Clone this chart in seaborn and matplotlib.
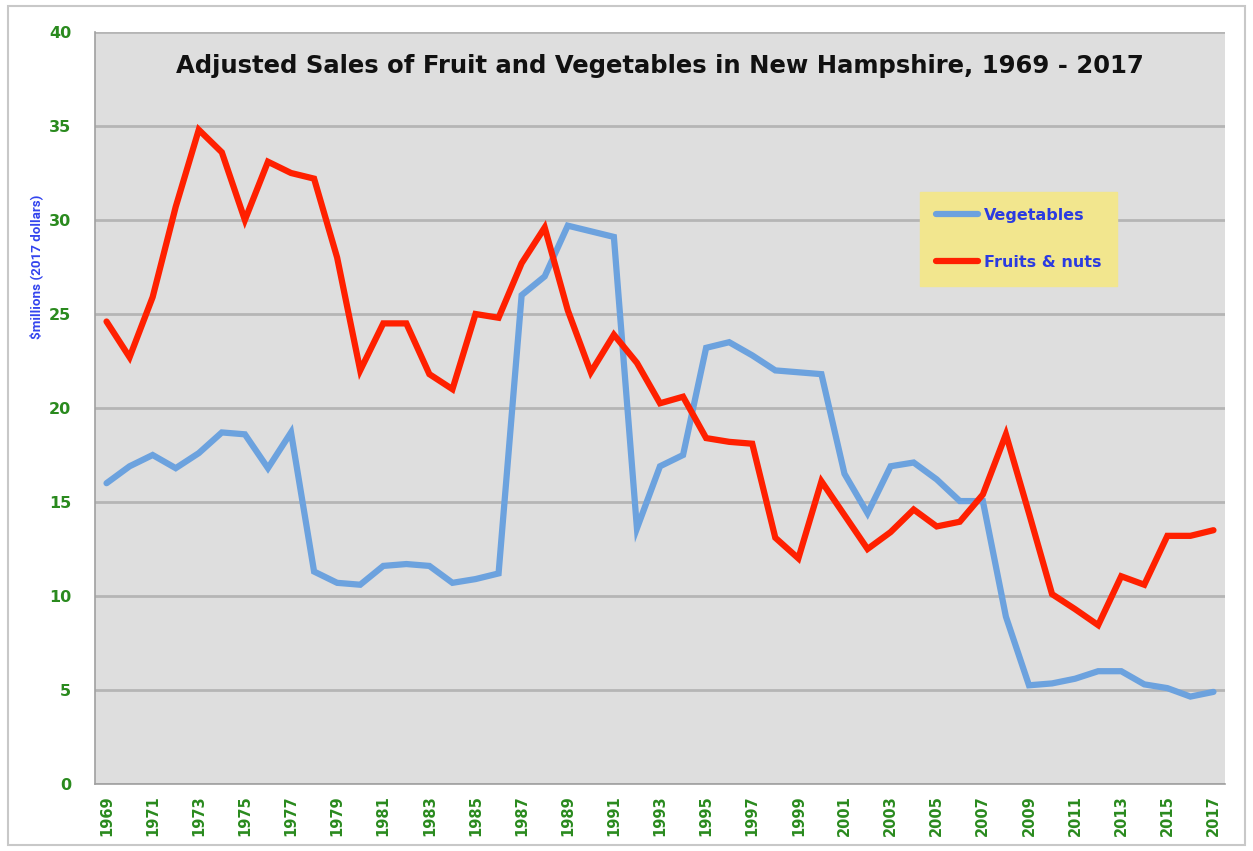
import matplotlib
matplotlib.use("Agg")
import matplotlib.pyplot as plt
import matplotlib.patches as mpatches
from matplotlib.lines import Line2D
from matplotlib import font_manager
import seaborn as sns
import pandas as pd
import numpy as np

years = list(range(1969, 2018))
vegetables = [16.0, 16.9, 17.5, 16.8, 17.6, 18.7, 18.6, 16.8, 18.7, 11.3,
              10.7, 10.6, 11.6, 11.7, 11.6, 10.7, 10.9, 11.2, 26.0, 27.0,
              29.7, 29.4, 29.1, 13.6, 16.9, 17.5, 23.2, 23.5, 22.8, 22.0,
              21.9, 21.8, 16.5, 14.4, 16.9, 17.1, 16.2, 15.05, 15.05, 8.9,
              5.25, 5.35, 5.6, 6.0, 6.0, 5.3, 5.1, 4.65, 4.9]
fruits = [24.6, 22.7, 25.9, 30.7, 34.8, 33.6, 30.0, 33.1, 32.5, 32.2,
          28.0, 22.0, 24.5, 24.5, 21.8, 21.0, 25.0, 24.8, 27.7, 29.6,
          25.2, 21.9, 23.9, 22.4, 20.25, 20.6, 18.4, 18.2, 18.1, 13.1,
          12.0, 16.1, 14.3, 12.5, 13.4, 14.6, 13.7, 13.95, 15.4, 18.6,
          14.4, 10.1, 9.3, 8.45, 11.05, 10.6, 13.2, 13.2, 13.5]
series_names = ["Vegetables", "Fruits & nuts"]
title = "Adjusted Sales of Fruit and Vegetables in New Hampshire, 1969 - 2017"
ylabel = "$millions (2017 dollars)"

df = pd.DataFrame({
    "year": years * 2,
    "value": vegetables + fruits,
    "series": [series_names[0]] * len(years) + [series_names[1]] * len(years),
})

sns.set_style("white")
available = {f.name for f in font_manager.fontManager.ttflist}
narrow = "Liberation Sans Narrow" if "Liberation Sans Narrow" in available else "Roboto"
plt.rcParams['font.family'] = ['DejaVu Sans']

fig = plt.figure(figsize=(12.53, 8.51), dpi=100)
ax = fig.add_axes([95/1253, 1-784/851, (1225-95)/1253, (784-32)/851])

palette = {series_names[0]: "#6CA2DE", series_names[1]: "#FF2000"}
sns.lineplot(data=df, x="year", y="value", hue="series", palette=palette,
             linewidth=4.5, ax=ax, legend=False, solid_joinstyle="miter")

ax.set_facecolor("#DEDEDE")
ax.set_xlim(1968.5, 2017.5)
ax.set_ylim(0, 40)
ax.set_yticks(range(0, 41, 5))
ax.yaxis.grid(True, color="#B5B5B5", linewidth=2)
ax.set_axisbelow(True)
ax.set_xlabel("")
ax.set_ylabel("")

ax.set_xticks(years[::2])
ax.set_xticklabels([str(y) for y in years[::2]], rotation=90)
ax.set_xticks(np.arange(1968.5, 2018, 1), minor=True)
ax.tick_params(axis="x", which="major", length=0, pad=8)
ax.tick_params(axis="x", which="minor", length=5, color="#A0A0A0", direction="out")
ax.tick_params(axis="y", length=7, color="#A0A0A0", direction="out", pad=10)
green = "#2A8A1E"
for lab in ax.get_xticklabels():
    lab.set_color(green); lab.set_fontweight("bold"); lab.set_fontsize(10.5)
for lab in ax.get_yticklabels():
    lab.set_color(green); lab.set_fontweight("bold"); lab.set_fontsize(11.5)

for s in ["top", "right"]:
    ax.spines[s].set_visible(False)
for s in ["left", "bottom"]:
    ax.spines[s].set_color("#A0A0A0")
    ax.spines[s].set_linewidth(1.2)

ax.text(0.5, 0.955, title, transform=ax.transAxes, ha="center", va="center",
        fontsize=17.5, fontweight="bold", color="#111111")

fig.text(36/1253, 1-267/851, ylabel, rotation=90, ha="center", va="center",
         color="#3344EE", fontsize=9.6, fontweight="bold", family=[narrow, "DejaVu Sans"])

# Legend box
leg_handles = [Line2D([0], [0], color=palette[n], lw=4.5) for n in series_names]
leg = ax.legend(leg_handles, series_names, loc="upper left",
                bbox_to_anchor=((920-95)/1130, (784-192)/752),
                borderaxespad=0.0,
                frameon=True, fancybox=False, handlelength=2.6,
                borderpad=1.0, labelspacing=2.0, handletextpad=0.4,
                prop={"weight": "bold", "size": 11.5})
leg.get_frame().set_facecolor("#F2E68E")
leg.get_frame().set_edgecolor("#F2E68E")
leg.get_frame().set_alpha(1)
for t in leg.get_texts():
    t.set_color("#2B3BE0")

fig.patches.append(mpatches.Rectangle((8/1253, 6/851), 1237/1253, 839/851,
                                      transform=fig.transFigure, fill=False,
                                      edgecolor="#C8C8C8", linewidth=1.5))

fig.savefig("out.png", dpi=100, facecolor="white")
